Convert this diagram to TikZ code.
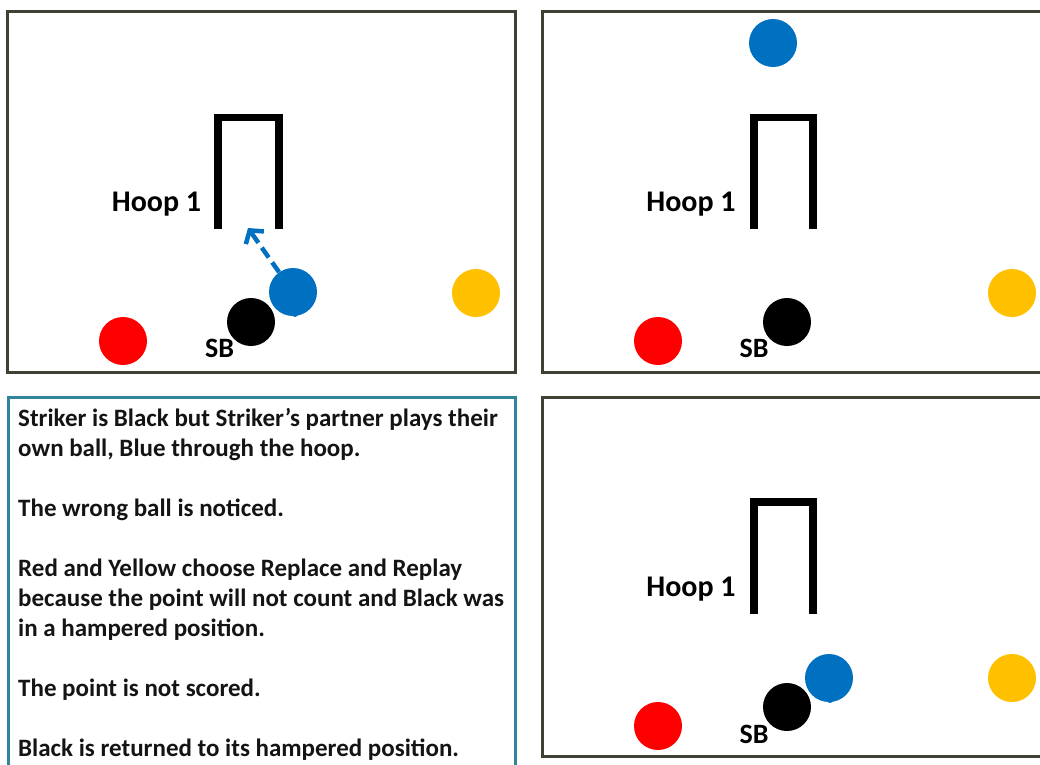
\documentclass[tikz,border=0pt]{standalone}
\usepackage{fontspec}
\setmainfont{Carlito}
\usetikzlibrary{arrows.meta}
\definecolor{panelc}{RGB}{64,64,52}
\definecolor{tealc}{RGB}{49,133,155}
\definecolor{ballblue}{RGB}{0,112,192}
\definecolor{ballred}{RGB}{255,0,0}
\definecolor{ballyellow}{RGB}{255,192,0}
\definecolor{txt}{RGB}{20,20,20}
\begin{document}
\begin{tikzpicture}[x=1pt,y=-1pt,
  panel/.style={draw=panelc, line width=3pt},
  textbox/.style={draw=tealc, line width=3pt},
  ball/.style={circle, minimum size=48pt, inner sep=0pt, draw=none},
  bump/.style={circle, minimum size=6pt, inner sep=0pt, draw=none, fill=ballblue},
  hoopline/.style={line width=7.5pt, line cap=butt, line join=miter},
  lbl/.style={font=\fontsize{30}{36}\selectfont\bfseries, text=black, inner sep=0pt},
  sb/.style={font=\fontsize{28}{34}\selectfont\bfseries, text=black, inner sep=0pt},
  info/.style={font=\fontsize{25}{30}\selectfont\bfseries, text=txt, inner sep=0pt, align=left},
  shot/.style={draw=ballblue, line width=4.5pt, dash pattern=on 12pt off 6pt,
    -{Straight Barb[length=9pt,width=22pt]}}
]
\useasboundingbox (0,0) rectangle (1040,764);
\clip (0,0) rectangle (1040,764);

% ---------- Panel 1 (top left) ----------
\draw[panel] (7.5,11.5) rectangle (515,372);
\draw[hoopline] (218,229) -- (218,117.5) -- (279,117.5) -- (279,229);
\node[lbl] (hoopA) at (156.5,204) {Hoop 1};
\node[ball, fill=ballred] (redA) at (123,341) {};
\node[ball, fill=black] (blackA) at (251,322) {};
\node[bump] (bumpA) at (295,314) {};
\node[ball, fill=ballblue] (blueA) at (293,292) {};
\node[ball, fill=ballyellow] (yellowA) at (476,293) {};
\node[sb] (sbA) at (219.5,348) {SB};
\coordinate (tipA) at (248,228);
\draw[shot] (blueA) -- (tipA);

% ---------- Panel 2 (top right) ----------
\draw[panel] (542,11.5) rectangle (1060,372);
\draw[hoopline] (754,229) -- (754,117.5) -- (813,117.5) -- (813,229);
\node[lbl] (hoopB) at (691,204) {Hoop 1};
\node[ball, fill=ballblue] (blueB) at (773,43) {};
\node[ball, fill=ballred] (redB) at (658,341) {};
\node[ball, fill=black] (blackB) at (787,322) {};
\node[ball, fill=ballyellow] (yellowB) at (1012,293) {};
\node[sb] (sbB) at (754,348) {SB};

% ---------- Text box (bottom left) ----------
\draw[textbox] (8,397) rectangle (515,790);
\node[info, anchor=north west] (notes) at (18,408) {%
Striker is Black but Striker’s partner plays their\\
own ball, Blue through the hoop.\\[30pt]
The wrong ball is noticed.\\[30pt]
Red and Yellow choose Replace and Replay\\
because the point will not count and Black was\\
in a hampered position.\\[30pt]
The point is not scored.\\[30pt]
Black is returned to its hampered position.};

% ---------- Panel 3 (bottom right) ----------
\draw[panel] (542,397.5) rectangle (1060,756.5);
\draw[hoopline] (754,614) -- (754,502) -- (813,502) -- (813,614);
\node[lbl] (hoopC) at (691,589) {Hoop 1};
\node[ball, fill=ballred] (redC) at (658,726) {};
\node[ball, fill=black] (blackC) at (787,707) {};
\node[bump] (bumpC) at (830,700) {};
\node[ball, fill=ballblue] (blueC) at (829,678) {};
\node[ball, fill=ballyellow] (yellowC) at (1012,678) {};
\node[sb] (sbC) at (754,734) {SB};
\end{tikzpicture}
\end{document}
